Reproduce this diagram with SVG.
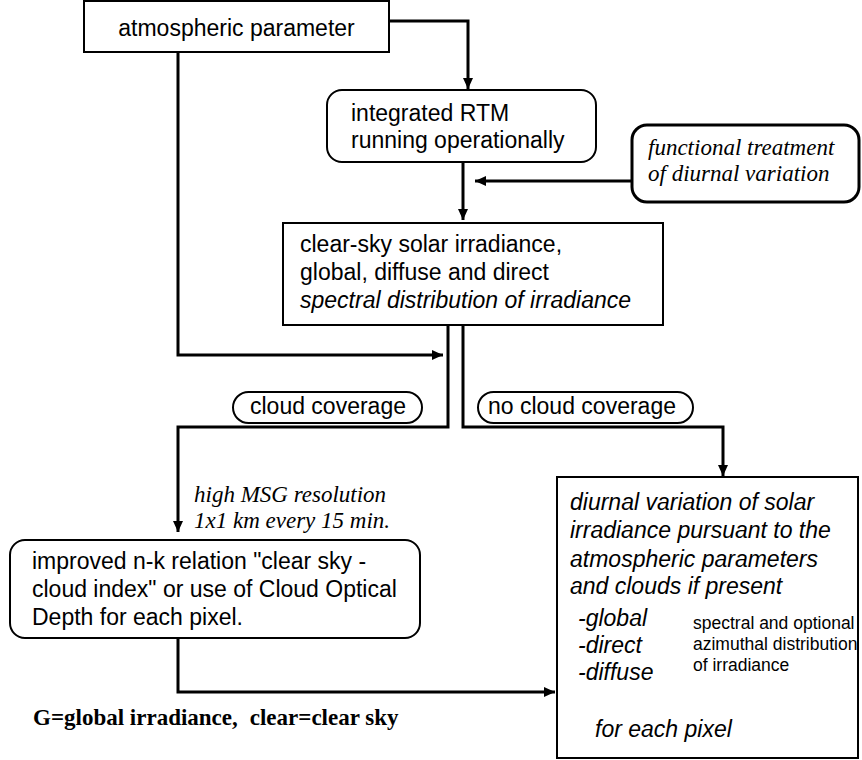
<svg xmlns="http://www.w3.org/2000/svg" width="862" height="760" viewBox="0 0 862 760">
<style>
.box{fill:#fff;stroke:#000;stroke-width:2}
.fbox{fill:#fff;stroke:#000;stroke-width:3}
.con{fill:none;stroke:#000;stroke-width:3}
.s{font-family:"Liberation Sans",Arial,sans-serif;font-size:23px;fill:#000}
.si{font-family:"Liberation Sans",Arial,sans-serif;font-size:23px;font-style:italic;fill:#000}
.sm{font-family:"Liberation Sans",Arial,sans-serif;font-size:17.5px;fill:#000}
.ti{font-family:"Liberation Serif","Times New Roman",serif;font-size:23px;font-style:italic;fill:#000}
.tb{font-family:"Liberation Serif","Times New Roman",serif;font-size:23px;font-weight:bold;fill:#000}
</style>
<defs>
<marker id="ah" markerUnits="userSpaceOnUse" markerWidth="12" markerHeight="10" refX="11" refY="5" orient="auto">
<path d="M0,0 L11,5 L0,10 z" fill="#000"/>
</marker>
</defs>
<g id="connectors">
<path class="con" d="M389,21 H468 V89" marker-end="url(#ah)"/>
<path class="con" d="M463,162 V220" marker-end="url(#ah)"/>
<path class="con" d="M632,181 H475" marker-end="url(#ah)"/>
<path class="con" d="M178,52 V355 H443" marker-end="url(#ah)"/>
<path class="con" d="M448,325 V427 H178 V532" marker-end="url(#ah)"/>
<path class="con" d="M463,325 V427 H723 V476" marker-end="url(#ah)"/>
<path class="con" d="M178,638 V692 H555" marker-end="url(#ah)"/>
</g>
<g id="atm">
<rect class="box" x="84" y="1" width="305" height="51"/>
<text class="s" x="236.5" y="36" text-anchor="middle">atmospheric parameter</text>
</g>
<g id="rtm">
<rect class="box" x="327" y="90" width="269" height="72" rx="15"/>
<text class="s" x="351" y="121">integrated RTM</text>
<text class="s" x="351" y="148">running operationally</text>
</g>
<g id="functional">
<rect class="fbox" x="632" y="125" width="227" height="77" rx="15"/>
<text class="ti" x="648" y="155">functional treatment</text>
<text class="ti" x="648" y="181">of diurnal variation</text>
</g>
<g id="clearsky">
<rect class="box" x="283" y="223" width="380" height="102"/>
<text class="s" x="300" y="252">clear-sky solar irradiance,</text>
<text class="s" x="300" y="280">global, diffuse and direct</text>
<text class="si" x="300" y="308">spectral distribution of irradiance</text>
</g>
<g id="cloud">
<rect class="box" x="233" y="392" width="189" height="31" rx="15.5"/>
<text class="s" x="250" y="414">cloud coverage</text>
</g>
<g id="nocloud">
<rect class="box" x="478" y="392" width="215" height="31" rx="15.5"/>
<text class="s" x="488" y="414">no cloud coverage</text>
</g>
<g id="msg">
<text class="ti" x="194" y="502">high MSG resolution</text>
<text class="ti" x="194" y="528">1x1 km every 15 min.</text>
</g>
<g id="improved">
<rect class="box" x="10" y="540" width="410" height="98" rx="15"/>
<text class="s" x="32" y="569">improved n-k relation "clear sky -</text>
<text class="s" x="32" y="597">cloud index" or use of Cloud Optical</text>
<text class="s" x="32" y="625">Depth for each pixel.</text>
</g>
<g id="diurnal">
<rect class="box" x="557" y="477" width="301" height="281"/>
<text class="si" x="570" y="510">diurnal variation of solar</text>
<text class="si" x="570" y="538">irradiance pursuant to the</text>
<text class="si" x="570" y="567">atmospheric parameters</text>
<text class="si" x="570" y="594">and clouds if present</text>
<text class="si" x="578" y="626">-global</text>
<text class="si" x="578" y="653">-direct</text>
<text class="si" x="578" y="680">-diffuse</text>
<text class="sm" x="693" y="629">spectral and optional</text>
<text class="sm" x="693" y="650">azimuthal distribution</text>
<text class="sm" x="693" y="671">of irradiance</text>
<text class="si" x="595" y="737">for each pixel</text>
</g>
<g id="footer">
<text class="tb" x="33" y="725">G=global irradiance,<tspan dx="12">clear=clear sky</tspan></text>
</g>
</svg>
